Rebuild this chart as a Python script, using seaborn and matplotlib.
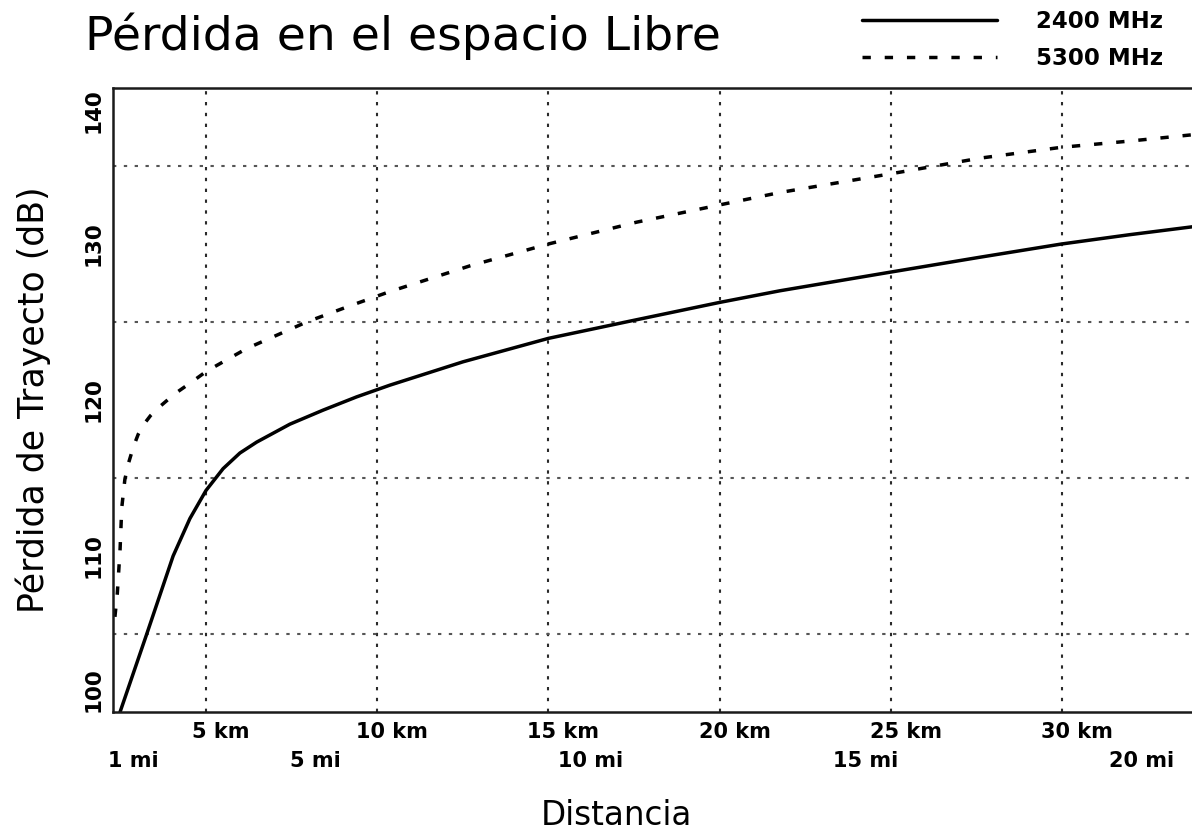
import matplotlib
matplotlib.use("Agg")
import matplotlib.pyplot as plt
import numpy as np
import pandas as pd
import seaborn as sns
from matplotlib.transforms import blended_transform_factory, ScaledTranslation

# ---------------- data ----------------
SERIES = ["2400 MHz", "5300 MHz"]

KM_2400 = [2.49, 3.27, 4.04, 4.53, 5.00, 5.50, 5.99, 6.48, 7.45, 8.42, 9.40, 10.37,
           12.51, 15.00, 17.48, 19.99, 21.76, 25.00, 27.60, 29.99, 31.99, 33.80]
DB_2400 = [100.0, 105.0, 110.0, 112.4, 114.2, 115.6, 116.6, 117.3, 118.45, 119.35, 120.2, 120.95,
           122.45, 123.95, 125.1, 126.25, 127.0, 128.2, 129.15, 130.0, 130.6, 131.1]

KM_5300 = [2.34, 2.41, 2.49, 2.54, 2.63, 2.73, 2.88, 3.02, 3.17, 3.38, 3.61, 4.09, 4.58, 5.02, 6.19,
           7.94, 9.16, 10.37, 12.71, 15.00, 17.58, 19.99, 21.76, 25.00, 27.60, 29.99, 31.99, 33.80]
DB_5300 = [106.1, 107.6, 110.4, 113.1, 114.9, 115.9, 117.0, 117.8, 118.4, 119.0, 119.5, 120.4, 121.15,
           121.85, 123.3, 125.0, 126.0, 126.95, 128.6, 130.0, 131.4, 132.5, 133.3, 134.5, 135.5, 136.2,
           136.6, 137.0]

KM_TICKS = [5, 10, 15, 20, 25, 30]
KM_LABELS = ["5 km", "10 km", "15 km", "20 km", "25 km", "30 km"]
MILES = [1, 5, 10, 15, 20]
MI_LABELS = ["1 mi", "5 mi", "10 mi", "15 mi", "20 mi"]
KM_PER_MILE = 1.609

DB_TICKS = [100, 110, 120, 130, 140]
DB_TICK_LABELS = ["100", "110", "120", "130", "140"]
DB_GRID = [100, 105, 110, 115, 120, 125, 130, 135, 140]

TITLE = "Pérdida en el espacio Libre"
XLABEL = "Distancia"
YLABEL = "Pérdida de Trayecto (dB)"

X_RANGE = (2.284, 33.80)
Y_RANGE = (100, 140)

# ---------------- figure ----------------
sns.set_theme(style="white")
plt.rcParams["font.family"] = ["DejaVu Sans"]
plt.rcParams["text.color"] = "black"
plt.rcParams["axes.labelcolor"] = "black"
plt.rcParams["xtick.color"] = "black"
plt.rcParams["ytick.color"] = "black"

W, H = 1192, 836
fig = plt.figure(figsize=(W / 100, H / 100), dpi=100)
ax = fig.add_axes([113 / W, 1 - 712 / H, 1 - 113 / W, (712 - 88) / H])

df = pd.concat([
    pd.DataFrame({"km": KM_2400, "dB": DB_2400, "serie": SERIES[0]}),
    pd.DataFrame({"km": KM_5300, "dB": DB_5300, "serie": SERIES[1]}),
], ignore_index=True)

sns.lineplot(data=df, x="km", y="dB", style="serie", style_order=SERIES,
             dashes={SERIES[0]: "", SERIES[1]: (2.4, 4.0)},
             color="black", linewidth=2.5, sort=False, estimator=None,
             ax=ax, legend=False)
for ln in ax.lines:
    ln.set_solid_joinstyle("round")

ax.set_xlim(*X_RANGE)
ax.set_ylim(*Y_RANGE)
ax.set_xlabel("")
ax.set_ylabel("")

ax.set_xticks(KM_TICKS)
ax.set_xticklabels([])
ax.set_yticks(DB_TICKS)
ax.set_yticks(DB_GRID, minor=True)
ax.set_yticklabels(DB_TICK_LABELS, rotation=90, fontsize=15.5, fontweight="bold", color="black")
ax.tick_params(axis="both", which="both", length=0)
ax.tick_params(axis="y", pad=7)
for lbl, val in zip(ax.get_yticklabels(), DB_TICKS):
    if val == Y_RANGE[0]:
        lbl.set_va("bottom")
    elif val == Y_RANGE[1]:
        lbl.set_va("top")
    else:
        lbl.set_va("center")

ax.xaxis.grid(True, which="major", color="#2a2a2a", linewidth=1.5, linestyle=(0, (1.6, 3.6)))
ax.yaxis.grid(True, which="minor", color="#555555", linewidth=1.5, linestyle=(0, (1.6, 3.6)))
ax.yaxis.grid(False, which="major")
ax.set_axisbelow(True)

ax.spines["right"].set_visible(False)
for s in ("left", "top", "bottom"):
    ax.spines[s].set_color("#1a1a1a")
    ax.spines[s].set_linewidth(1.8)

# km / mi labels under the axis
trans = blended_transform_factory(ax.transData, ax.transAxes)
for km, lab in zip(KM_TICKS, KM_LABELS):
    ax.text(km, 0, lab, transform=trans + ScaledTranslation(15 / 100, -26 / 100, fig.dpi_scale_trans),
            ha="center", va="baseline", fontsize=15, fontweight="bold", color="black", clip_on=False)
for mi, lab in zip(MILES, MI_LABELS):
    pos = mi * KM_PER_MILE
    if pos < X_RANGE[0]:
        pos, ha, dx = X_RANGE[0], "left", -5
    else:
        ha, dx = "center", 5
    ax.text(pos, 0, lab, transform=trans + ScaledTranslation(dx / 100, -55 / 100, fig.dpi_scale_trans),
            ha=ha, va="baseline", fontsize=15, fontweight="bold", color="black", clip_on=False)

# texts
fig.text(85 / W, 1 - 50 / H, TITLE, fontsize=34, ha="left", va="baseline", color="black")
fig.text(616 / W, 1 - 825 / H, XLABEL, fontsize=23.5, ha="center", va="baseline", color="black")
fig.text(33 / W, 1 - 400 / H, YLABEL, fontsize=25, rotation=90, ha="center", va="center", color="black")

# legend
fig.legend(handles=ax.lines[:2], labels=SERIES, loc="upper left",
           bbox_to_anchor=(862 / W, 1 - 10 / H), frameon=False, borderpad=0,
           borderaxespad=0, handlelength=5.9, handletextpad=1.7, labelspacing=0.62,
           prop={"weight": "bold", "size": 16.5})

fig.savefig("out.png", dpi=100)
